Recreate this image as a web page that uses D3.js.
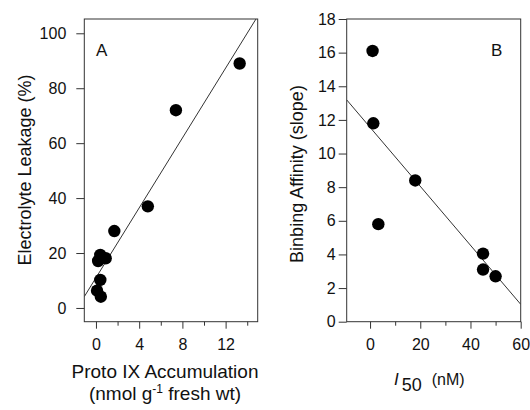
<!DOCTYPE html>
<html>
<head>
<meta charset="utf-8">
<script src="https://cdn.jsdelivr.net/npm/d3@7"></script>
<style>
  body { margin: 0; background: #fff; }
  svg text { font-family: "Liberation Sans", Arial, sans-serif; fill: #111; }
</style>
</head>
<body>
<div id="chart"></div>
<script>
/* ---- data: panel A ---- */
const protoIX = [13.3, 7.4, 4.8, 1.7, 0.4, 0.9, 0.2, 0.4, 0.1, 0.45];
const leakage = [89, 72, 37, 28, 19.3, 18.1, 17.1, 10.2, 6.3, 4.1];
const fitA = [11.0, 6.36];            // intercept, slope
const ticksAx = [0, 4, 8, 12];
const minorAx = [2, 6, 10, 14];
const ticksAy = [0, 20, 40, 60, 80, 100];

/* ---- data: panel B ---- */
const i50 = [1, 1.3, 3.3, 18, 45, 45, 50];
const affinity = [16.1, 11.8, 5.8, 8.4, 4.05, 3.1, 2.7];
const fitB = [11.56, -0.1754];
const ticksBx = [0, 20, 40, 60];
const minorBx = [10, 30, 50];
const ticksBy = [0, 2, 4, 6, 8, 10, 12, 14, 16, 18];

const W = 530, H = 410;
const svg = d3.select("#chart").append("svg")
    .attr("width", W).attr("height", H);

const defs = svg.append("defs");

function panel(opt) {
    const x = d3.scaleLinear().domain(opt.xDom).range([opt.left, opt.right]);
    const y = d3.scaleLinear().domain(opt.yDom).range([opt.bottom, opt.top]);
    const g = svg.append("g");

    defs.append("clipPath").attr("id", opt.clip)
        .append("rect").attr("x", opt.left).attr("y", opt.top)
        .attr("width", opt.right - opt.left).attr("height", opt.bottom - opt.top);

    // frame
    g.append("rect")
        .attr("x", opt.left).attr("y", opt.top)
        .attr("width", opt.right - opt.left).attr("height", opt.bottom - opt.top)
        .attr("fill", "none").attr("stroke", "#333").attr("stroke-width", 1);

    // x axis
    const xa = g.append("g").attr("transform", `translate(0,${opt.bottom})`)
        .call(d3.axisBottom(x).tickValues(opt.xTicks).tickSize(7).tickPadding(10));
    const xm = g.append("g").attr("transform", `translate(0,${opt.bottom})`)
        .call(d3.axisBottom(x).tickValues(opt.xMinor).tickSize(4).tickFormat(""));

    // y axis
    const ya = g.append("g").attr("transform", `translate(${opt.left},0)`)
        .call(d3.axisLeft(y).tickValues(opt.yTicks).tickSize(8).tickPadding(opt.yPad));

    [xa, xm, ya].forEach(a => {
        a.select(".domain").remove();
        a.selectAll("line").attr("stroke", "#333");
        a.selectAll("text").style("font-size", "16px")
            .style("font-family", "'Liberation Sans', Arial, sans-serif").attr("fill", "#111");
    });

    // regression line
    g.append("line")
        .attr("clip-path", `url(#${opt.clip})`)
        .attr("x1", x(opt.xDom[0])).attr("y1", y(opt.fit[0] + opt.fit[1] * opt.xDom[0]))
        .attr("x2", x(opt.xDom[1])).attr("y2", y(opt.fit[0] + opt.fit[1] * opt.xDom[1]))
        .attr("stroke", "#333").attr("stroke-width", 1);

    // points
    g.append("g").selectAll("circle")
        .data(opt.xs.map((v, i) => [v, opt.ys[i]]))
        .enter().append("circle")
        .attr("cx", d => x(d[0])).attr("cy", d => y(d[1]))
        .attr("r", 6.2).attr("fill", "#000");

    // panel letter
    g.append("text").attr("x", opt.letterX).attr("y", 56)
        .style("font-size", "17px").text(opt.letter);

    // y title
    g.append("text")
        .attr("transform", `translate(${opt.yTitleX},${opt.yTitleY}) rotate(-90)`)
        .attr("text-anchor", "middle").style("font-size", "18px")
        .text(opt.yTitle);

    return { x, y, g };
}

panel({
    left: 84.3, right: 257.7, top: 19, bottom: 321.7,
    xDom: [-1.08, 14.97], yDom: [-5, 105.2],
    xTicks: ticksAx, xMinor: minorAx, yTicks: ticksAy, yPad: 10,
    xs: protoIX, ys: leakage, fit: fitA, clip: "clipA",
    letter: "A", letterX: 96, yTitleX: 31, yTitleY: 170, yTitle: "Electrolyte Leakage (%)"
});

panel({
    left: 346.7, right: 520.7, top: 19, bottom: 321.7,
    xDom: [-9.3, 60], yDom: [0, 18],
    xTicks: ticksBx, xMinor: minorBx, yTicks: ticksBy, yPad: 3,
    xs: i50, ys: affinity, fit: fitB, clip: "clipB",
    letter: "B", letterX: 491, yTitleX: 303, yTitleY: 174, yTitle: "Binbing Affinity (slope)"
});

// x titles
svg.append("text").attr("x", 165).attr("y", 378)
    .attr("text-anchor", "middle").style("font-size", "19px")
    .text("Proto IX Accumulation");
const tA2 = svg.append("text").attr("x", 165).attr("y", 400)
    .attr("text-anchor", "middle").style("font-size", "19px");
tA2.append("tspan").text("(nmol g");
tA2.append("tspan").attr("dy", -7).style("font-size", "12px").text("-1");
tA2.append("tspan").attr("dy", 7).text(" fresh wt)");

const tB = svg.append("text").attr("x", 394).attr("y", 385).style("font-size", "17px");
tB.append("tspan").style("font-style", "italic").text("I");
tB.append("tspan").attr("dy", 6).attr("dx", 3).style("font-size", "18px").text("50");
tB.append("tspan").attr("dy", -6).attr("dx", 10).style("font-size", "16px").text("(nM)");
</script>
</body>
</html>
